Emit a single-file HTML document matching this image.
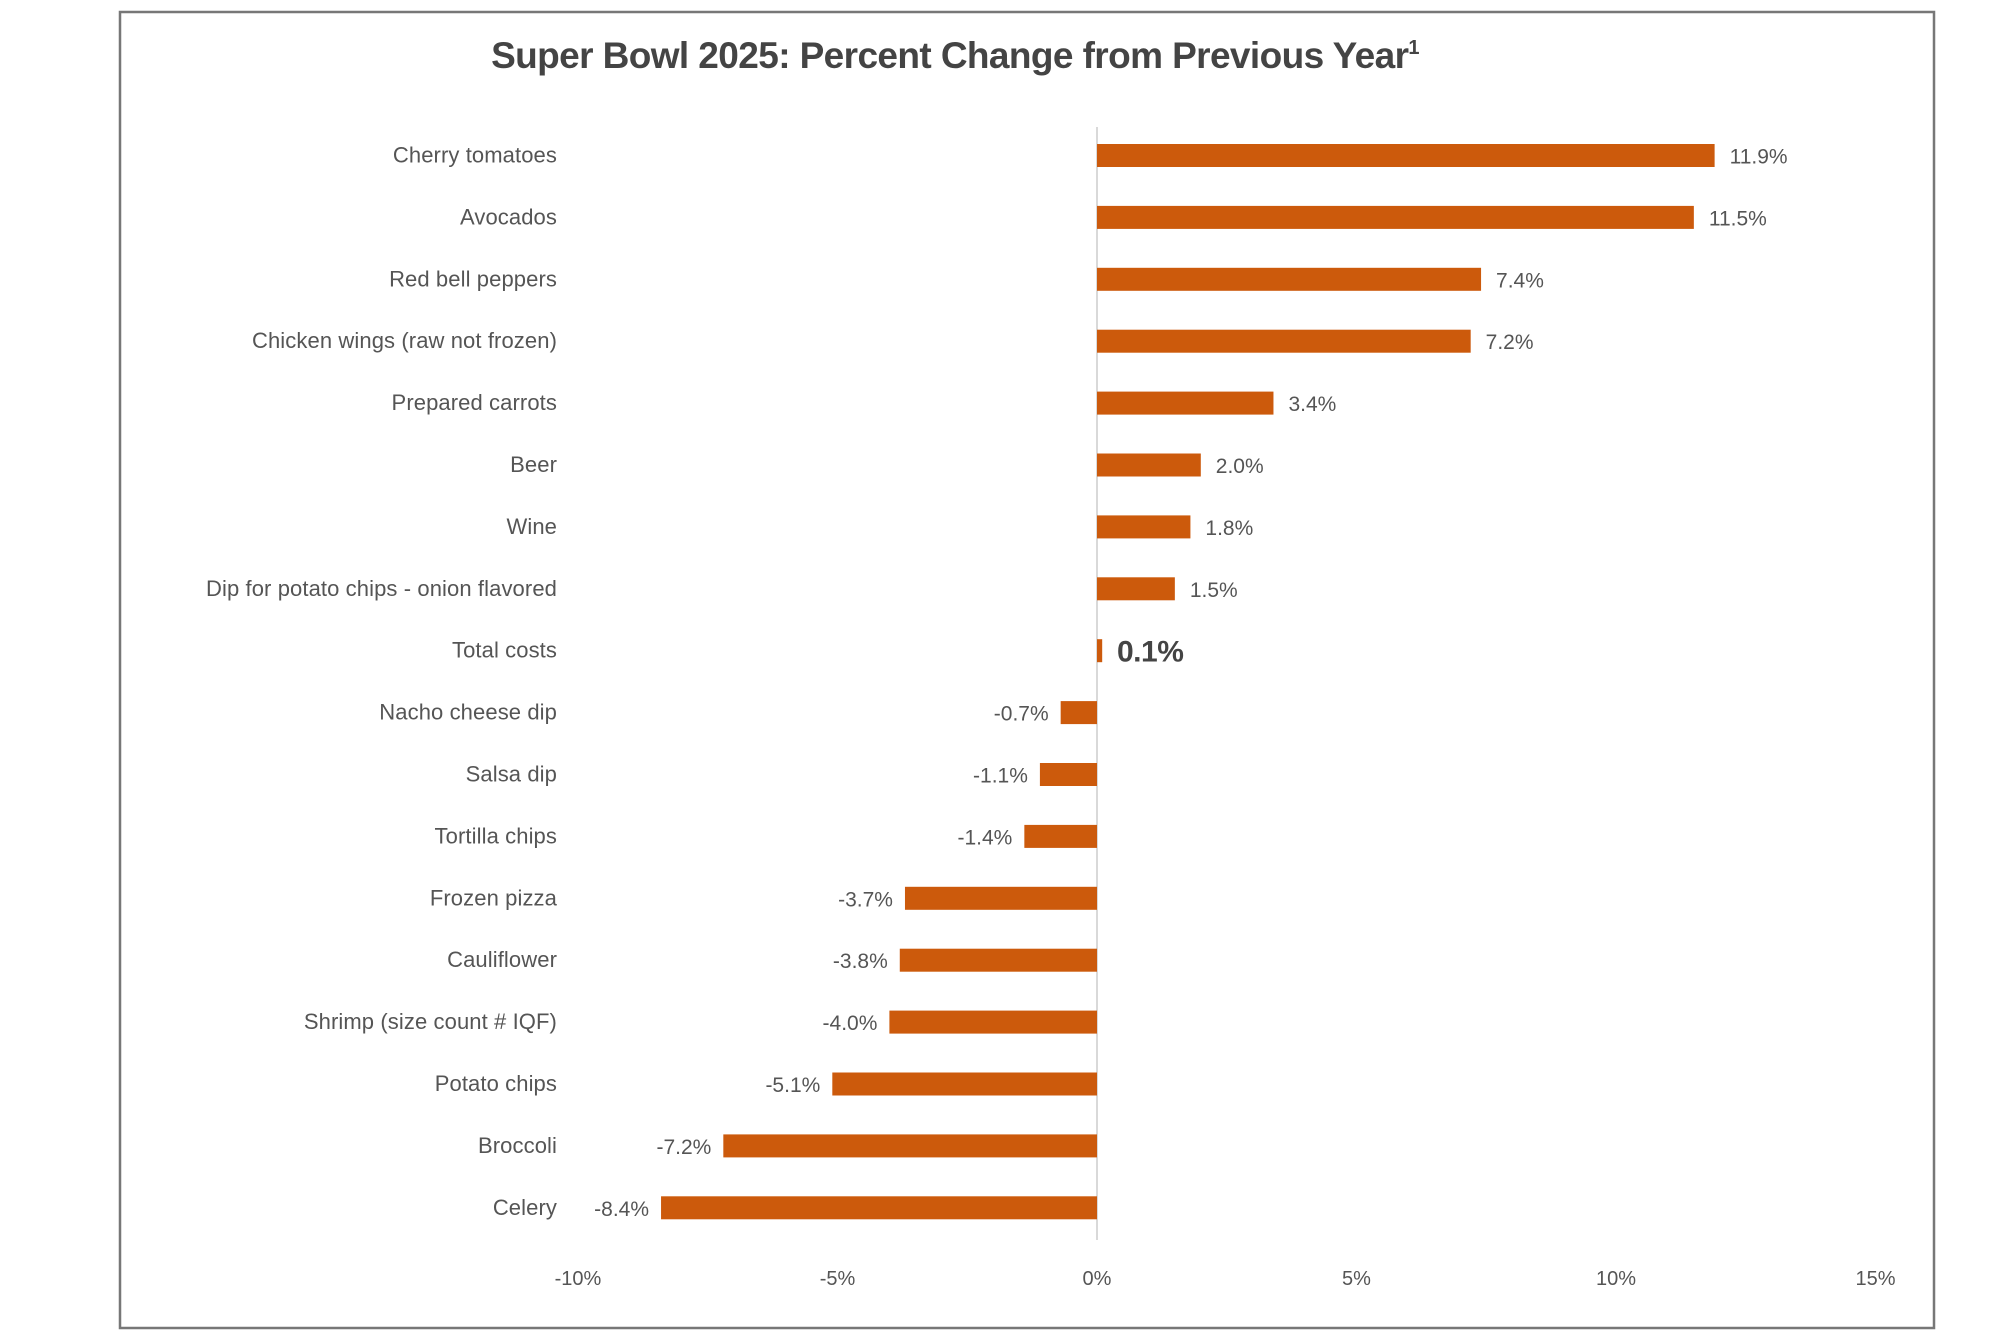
<!DOCTYPE html>
<html><head><meta charset="utf-8"><style>
html,body{margin:0;padding:0;background:#fff;}
svg{display:block;}
text{font-family:"Liberation Sans",sans-serif;}
</style></head><body>
<svg width="2000" height="1333" viewBox="0 0 2000 1333" xmlns="http://www.w3.org/2000/svg">
<rect x="120" y="12" width="1824" height="1320" fill="#fff" stroke="#777" stroke-width="2.5"/>
<rect x="120" y="12" width="1814" height="1316" fill="#fff" stroke="#777" stroke-width="2.5"/>
<text x="955" y="68" text-anchor="middle" font-size="37" font-weight="bold" fill="#444" letter-spacing="-0.6">Super Bowl 2025: Percent Change from Previous Year<tspan font-size="20" dy="-14">1</tspan></text>
<line x1="1097" y1="127" x2="1097" y2="1240" stroke="#d9d9d9" stroke-width="2"/>
<script>
var d=[["Cherry tomatoes",11.9],["Avocados",11.5],["Red bell peppers",7.4],["Chicken wings (raw not frozen)",7.2],["Prepared carrots",3.4],["Beer",2.0],["Wine",1.8],["Dip for potato chips - onion flavored",1.5],["Total costs",0.1],["Nacho cheese dip",-0.7],["Salsa dip",-1.1],["Tortilla chips",-1.4],["Frozen pizza",-3.7],["Cauliflower",-3.8],["Shrimp (size count # IQF)",-4.0],["Potato chips",-5.1],["Broccoli",-7.2],["Celery",-8.4]];
var ns="http://www.w3.org/2000/svg",s=document.querySelector("svg");
s.removeChild(s.querySelector("rect"));
function t(x,y,str,a,fs,fw,col,ls){var e=document.createElementNS(ns,"text");e.setAttribute("x",x);e.setAttribute("y",y);e.setAttribute("text-anchor",a);e.setAttribute("font-size",fs);if(fw)e.setAttribute("font-weight",fw);e.setAttribute("fill",col);e.setAttribute("letter-spacing",ls||"0");e.textContent=str;s.appendChild(e);}
var z=1097,u=51.9;
d.forEach(function(r,i){var cy=155.5+i*61.9,v=r[1];
var x1=v>=0?z:z+v*u,w=Math.abs(v)*u;if(w<4)w=4;
var b=document.createElementNS(ns,"rect");b.setAttribute("x",x1);b.setAttribute("y",cy-11.5);b.setAttribute("width",w);b.setAttribute("height",23);b.setAttribute("fill","#cc5a0c");s.appendChild(b);
t(557,cy+7,r[0],"end",22,null,"#555","0.1");
var lab=v.toFixed(1)+"%";
if(i==8)t(z+20,cy+11,lab,"start",30,"bold","#444","-0.5");
else if(v>=0)t(z+w+15,cy+8,lab,"start",21,null,"#555");
else t(x1-12,cy+8,lab,"end",21,null,"#555");
});
[-10,-5,0,5,10,15].forEach(function(v){t(z+v*u,1285,v+"%","middle",20,null,"#555");});
</script>
</svg>
</body></html>
